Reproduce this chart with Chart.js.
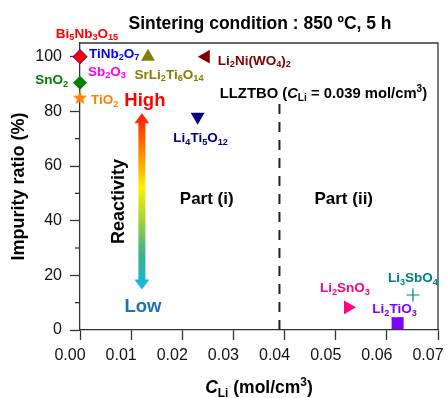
<!DOCTYPE html>
<html>
<head>
<meta charset="utf-8">
<script src="https://cdn.jsdelivr.net/npm/chart.js@4.4.0/dist/chart.umd.min.js"></script>
<style>
  html, body { margin: 0; padding: 0; background: #fff; }
  #wrap { width: 447px; height: 398px; }
</style>
</head>
<body>
<div id="wrap"><canvas id="chart"></canvas></div>
<script>
// data
const compounds = [
  "Sb_{2}O_{3}", "TiNb_{2}O_{7}", "Bi_{5}Nb_{3}O_{15}", "SnO_{2}", "TiO_{2}",
  "SrLi_{2}Ti_{6}O_{14}", "Li_{2}Ni(WO_{4})_{2}", "Li_{4}Ti_{5}O_{12}",
  "Li_{2}SnO_{3}", "Li_{2}TiO_{3}", "Li_{3}SbO_{4}",
];
const liConcentration = [0, 0, 0, 0, 0, 0.0133, 0.0246, 0.0230, 0.0524, 0.0621, 0.0651];
const impurityRatio = [100, 100, 100, 90.5, 85.2, 100, 100, 78, 8.3, 2.5, 12.8];
const xTicks = [0, 0.01, 0.02, 0.03, 0.04, 0.05, 0.06, 0.07];
const yTicks = [0, 20, 40, 60, 80, 100];
const yMinorTicks = [10, 30, 50, 70, 90];
const llztboCLi = 0.039;
const llztboLineTop = 83;
const reactivityRange = [79.3, 14.8];
const reactivityX = 0.0121;

const FONT = "'Liberation Sans', Arial, sans-serif";
const AXIS = "#333";

function makeStar(color, r) {
  const c = document.createElement("canvas");
  const s = Math.ceil(r * 2 + 2);
  c.width = s;
  c.height = s;
  const g = c.getContext("2d");
  g.beginPath();
  for (let i = 0; i < 10; i++) {
    const rr = i % 2 === 0 ? r : r * 0.42;
    const a = -Math.PI / 2 + (i * Math.PI) / 5;
    g.lineTo(s / 2 + rr * Math.cos(a), s / 2 + 1 + rr * Math.sin(a));
  }
  g.closePath();
  g.fillStyle = color;
  g.fill();
  return c;
}

// marker styles, one per compound
const markerStyles = [
  { color: "#ff00ff", style: "rectRot", radius: 7, rotation: 0 },
  { color: "#0000ff", style: "rectRot", radius: 7.6, rotation: 0 },
  { color: "#ff0000", style: "rectRot", radius: 7, rotation: 0 },
  { color: "#008000", style: "rectRot", radius: 7, rotation: 0 },
  { color: "#ff8000", style: makeStar("#ff8000", 7.5), radius: 7, rotation: 0 },
  { color: "#808000", style: "triangle", radius: 8, rotation: 0 },
  { color: "#800000", style: "triangle", radius: 8, rotation: -90 },
  { color: "#000080", style: "triangle", radius: 8, rotation: 180 },
  { color: "#ff0080", style: "triangle", radius: 8, rotation: 90 },
  { color: "#8000ff", style: "rect", radius: 8.5, rotation: 0 },
  { color: "#008080", style: "cross", radius: 6.5, rotation: 0 },
];

// label placement relative to marker, in px
const labelOffsets = [
  [8, 14, "left"],
  [9, -4, "left"],
  [7, -24, "center"],
  [-12, -3, "right"],
  [11, 2, "left"],
  [21, 17, "center"],
  [12, 3, "left"],
  [3, 20, "center"],
  [-3, -20, "center"],
  [-3, -15, "center"],
  [0, -18, "center"],
];

// rich text: _{sub} ^{sup} *italic*
function parseRich(str) {
  const parts = str.split(/(_\{[^}]*\}|\^\{[^}]*\}|\*[^*]*\*)/).filter((p) => p);
  return parts.map((p) => {
    if (p.startsWith("_{")) return { t: p.slice(2, -1), mode: "sub" };
    if (p.startsWith("^{")) return { t: p.slice(2, -1), mode: "sup" };
    if (p.startsWith("*")) return { t: p.slice(1, -1), mode: "italic" };
    return { t: p, mode: "normal" };
  });
}

function segFont(seg, size, weight) {
  const small = seg.mode === "sub" || seg.mode === "sup";
  const s = small ? size * 0.68 : size;
  const style = seg.mode === "italic" ? "italic " : "";
  return `${style}${weight} ${s}px ${FONT}`;
}

function drawRich(ctx, str, x, cy, opts) {
  const size = opts.size || 13;
  const weight = opts.weight || "bold";
  const segs = parseRich(str);
  let total = 0;
  segs.forEach((seg) => {
    ctx.font = segFont(seg, size, weight);
    seg.w = ctx.measureText(seg.t).width;
    total += seg.w;
  });
  let cx = x;
  if (opts.align === "center") cx = x - total / 2;
  else if (opts.align === "right") cx = x - total;
  const base = cy + size * 0.36;
  ctx.save();
  ctx.fillStyle = opts.color || "#000";
  ctx.textAlign = "left";
  ctx.textBaseline = "alphabetic";
  segs.forEach((seg) => {
    ctx.font = segFont(seg, size, weight);
    let y = base;
    if (seg.mode === "sub") y += size * 0.22;
    if (seg.mode === "sup") y -= size * 0.4;
    ctx.fillText(seg.t, cx, y);
    cx += seg.w;
  });
  ctx.restore();
}

const extrasPlugin = {
  id: "extras",
  beforeDatasetsDraw(chart) {
    const { ctx, chartArea: a, scales } = chart;
    ctx.save();
    ctx.strokeStyle = AXIS;
    ctx.lineWidth = 1.3;
    ctx.beginPath();
    ctx.moveTo(a.left, a.top);
    ctx.lineTo(a.right, a.top);
    ctx.lineTo(a.right, a.bottom);
    ctx.stroke();
    // minor y ticks
    yMinorTicks.forEach((v) => {
      const py = scales.y.getPixelForValue(v);
      ctx.beginPath();
      ctx.moveTo(a.left - 5, py);
      ctx.lineTo(a.left, py);
      ctx.stroke();
    });
    ctx.restore();
  },
  afterDatasetsDraw(chart) {
    const { ctx, chartArea: a, scales } = chart;
    const sx = scales.x;
    const sy = scales.y;

    // compound labels
    compounds.forEach((name, i) => {
      const px = sx.getPixelForValue(liConcentration[i]);
      const py = sy.getPixelForValue(impurityRatio[i]);
      const [dx, dy, align] = labelOffsets[i];
      drawRich(ctx, name, px + dx, py + dy, { size: 13.5, color: markerStyles[i].color, align });
    });

    // reactivity arrow
    const ax = sx.getPixelForValue(reactivityX);
    const top = sy.getPixelForValue(reactivityRange[0]);
    const bot = sy.getPixelForValue(reactivityRange[1]);
    const head = 10, hw = 7.5, sw = 3.5;
    const grad = ctx.createLinearGradient(0, top, 0, bot);
    grad.addColorStop(0, "#ff1a00");
    grad.addColorStop(0.2, "#ff7a00");
    grad.addColorStop(0.42, "#fff000");
    grad.addColorStop(0.62, "#9ad23a");
    grad.addColorStop(0.8, "#3cb08a");
    grad.addColorStop(1, "#10b8ea");
    ctx.save();
    ctx.fillStyle = grad;
    ctx.beginPath();
    ctx.moveTo(ax, top);
    ctx.lineTo(ax + hw, top + head);
    ctx.lineTo(ax + sw, top + head);
    ctx.lineTo(ax + sw, bot - head);
    ctx.lineTo(ax + hw, bot - head);
    ctx.lineTo(ax, bot);
    ctx.lineTo(ax - hw, bot - head);
    ctx.lineTo(ax - sw, bot - head);
    ctx.lineTo(ax - sw, top + head);
    ctx.lineTo(ax - hw, top + head);
    ctx.closePath();
    ctx.fill();
    ctx.restore();

    drawRich(ctx, "High", ax + 3, top - 14, { size: 18.5, color: "#ff0000", align: "center" });
    drawRich(ctx, "Low", ax + 1, bot + 16, { size: 18.5, color: "#1c70b8", align: "center" });
    ctx.save();
    ctx.translate(ax - 24, (top + bot) / 2);
    ctx.rotate(-Math.PI / 2);
    drawRich(ctx, "Reactivity", 0, 0, { size: 18, color: "#000", align: "center" });
    ctx.restore();

    // texts
    const lx = sx.getPixelForValue(llztboCLi);
    drawRich(ctx, "LLZTBO (*C*_{Li} = 0.039 mol/cm^{3})", lx + 44, sy.getPixelForValue(87), { size: 14.8, align: "center" });
    const partY = sy.getPixelForValue(48.5);
    drawRich(ctx, "Part (i)", (a.left + lx) / 2 + 27, partY, { size: 17, align: "center" });
    drawRich(ctx, "Part (ii)", (lx + a.right) / 2 - 15, partY, { size: 17, align: "center" });
    drawRich(ctx, "Sintering condition : 850 ºC, 5 h", (a.left + a.right) / 2 + 1, 23, { size: 17.5, align: "center" });

    // axis titles
    drawRich(ctx, "*C*_{Li} (mol/cm^{3})", (a.left + a.right) / 2, 387, { size: 17.5, align: "center" });
    ctx.save();
    ctx.translate(18, (a.top + a.bottom) / 2);
    ctx.rotate(-Math.PI / 2);
    drawRich(ctx, "Impurity ratio (%)", 0, 0, { size: 18, align: "center" });
    ctx.restore();
  },
};

const datasets = compounds.map((name, i) => ({
  label: name,
  data: [{ x: liConcentration[i], y: impurityRatio[i] }],
  pointStyle: markerStyles[i].style,
  pointRadius: markerStyles[i].radius,
  pointRotation: markerStyles[i].rotation,
  backgroundColor: markerStyles[i].color,
  borderColor: markerStyles[i].color,
  borderWidth: markerStyles[i].style === "cross" ? 1.2 : 0,
  clip: false,
  order: compounds.length - i,
}));

datasets.push({
  type: "line",
  label: "LLZTBO",
  data: [{ x: llztboCLi, y: 0 }, { x: llztboCLi, y: llztboLineTop }],
  borderColor: "#222",
  borderWidth: 2,
  borderDash: [10, 8],
  pointRadius: 0,
  order: compounds.length + 1,
});

new Chart(document.getElementById("chart"), {
  type: "scatter",
  data: { datasets },
  options: {
    responsive: true,
    maintainAspectRatio: false,
    animation: false,
    events: [],
    layout: { padding: { top: 43, right: 9, left: 0, bottom: 0 } },
    plugins: { legend: { display: false }, tooltip: { enabled: false } },
    scales: {
      x: {
        type: "linear",
        min: 0,
        max: 0.07,
        afterBuildTicks: (s) => { s.ticks = xTicks.map((v) => ({ value: v })); },
        afterFit: (s) => { s.height = 68; s.paddingRight = 0; s.paddingLeft = 0; },
        ticks: {
          callback: (v) => Number(v).toFixed(2),
          font: { size: 16, family: FONT },
          color: "#111",
          padding: 6,
          labelOffset: -10,
          maxRotation: 0,
          autoSkip: false,
        },
        grid: { drawOnChartArea: false, tickLength: 10, tickColor: AXIS, tickWidth: 1.3 },
        border: { color: AXIS, width: 1.3 },
      },
      y: {
        min: 0,
        max: 105,
        afterBuildTicks: (s) => { s.ticks = yTicks.map((v) => ({ value: v })); },
        afterFit: (s) => { s.width = 80; },
        ticks: {
          font: { size: 16, family: FONT },
          color: "#111",
          padding: 8,
        },
        grid: { drawOnChartArea: false, tickLength: 10, tickColor: AXIS, tickWidth: 1.3 },
        border: { color: AXIS, width: 1.3 },
      },
    },
  },
  plugins: [extrasPlugin],
});
</script>
</body>
</html>
